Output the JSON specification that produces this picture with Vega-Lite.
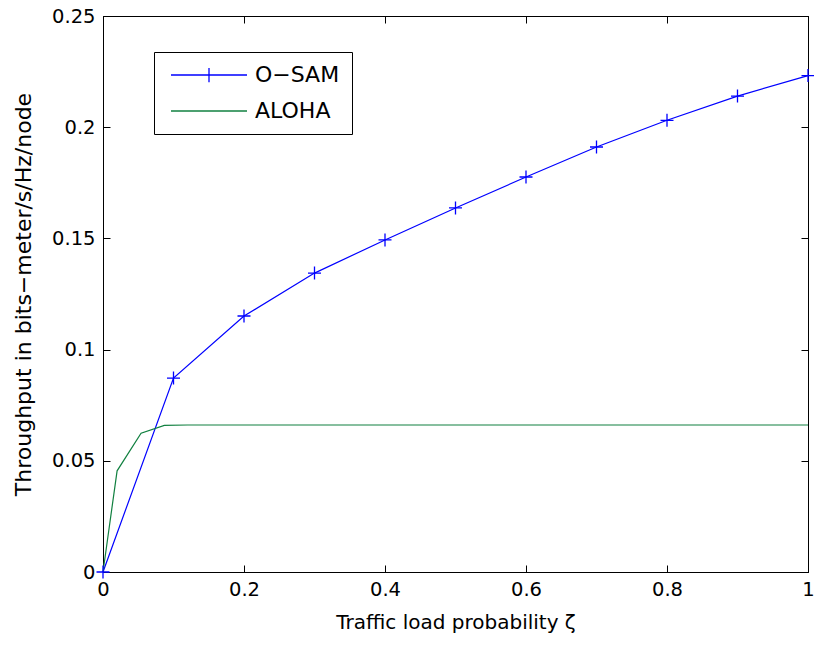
{
  "$schema": "https://vega.github.io/schema/vega-lite/v6.json",
  "width": 705,
  "height": 556,
  "autosize": "none",
  "padding": {"left": 103, "top": 16, "right": 6, "bottom": 73},
  "background": "white",
  "config": {
    "view": {"stroke": "black", "strokeWidth": 1},
    "font": "DejaVu Sans",
    "axis": {"grid": false, "domainColor": "black", "tickColor": "black", "labelColor": "black", "titleColor": "black", "labelFont": "DejaVu Sans", "titleFont": "DejaVu Sans", "labelFontSize": 19.5, "titleFontSize": 20, "titleFontWeight": "normal", "tickSize": -7, "domainWidth": 1, "tickWidth": 1, "labelFlush": false}
  },
  "datasets": {
    "lines": [
      {"series": "O−SAM", "x": 0, "y": 0},
      {"series": "O−SAM", "x": 0.1, "y": 0.0872},
      {"series": "O−SAM", "x": 0.2, "y": 0.1151},
      {"series": "O−SAM", "x": 0.3, "y": 0.1344},
      {"series": "O−SAM", "x": 0.4, "y": 0.1493},
      {"series": "O−SAM", "x": 0.5, "y": 0.1637},
      {"series": "O−SAM", "x": 0.6, "y": 0.1776},
      {"series": "O−SAM", "x": 0.7, "y": 0.1911},
      {"series": "O−SAM", "x": 0.8, "y": 0.2031},
      {"series": "O−SAM", "x": 0.9, "y": 0.2140},
      {"series": "O−SAM", "x": 1.0, "y": 0.2232},
      {"series": "ALOHA", "x": 0, "y": 0},
      {"series": "ALOHA", "x": 0.02, "y": 0.0455},
      {"series": "ALOHA", "x": 0.054, "y": 0.0624},
      {"series": "ALOHA", "x": 0.087, "y": 0.0659},
      {"series": "ALOHA", "x": 0.12, "y": 0.0661},
      {"series": "ALOHA", "x": 1.0, "y": 0.0661}
    ]
  },
  "data": {"name": "lines"},
  "resolve": {"axis": {"x": "independent", "y": "independent"}},
  "layer": [
    {
      "mark": {"type": "line", "strokeWidth": 1.2},
      "encoding": {
        "x": {"field": "x", "type": "quantitative", "scale": {"domain": [0, 1], "nice": false},
              "axis": {"orient": "bottom", "values": [0, 0.2, 0.4, 0.6, 0.8, 1], "format": "~g", "labelPadding": 15, "title": "Traffic load probability ζ", "titlePadding": 14}},
        "y": {"field": "y", "type": "quantitative", "scale": {"domain": [0, 0.25], "nice": false},
              "axis": {"orient": "left", "values": [0, 0.05, 0.1, 0.15, 0.2, 0.25], "format": "~g", "labelPadding": 15, "title": "Throughput in bits−meter/s/Hz/node", "titleFontSize": 22, "titlePadding": 16}},
        "color": {"field": "series", "type": "nominal",
                  "scale": {"domain": ["O−SAM", "ALOHA"], "range": ["#0000ff", "#118040"]},
                  "legend": {"title": null, "orient": "none", "legendX": 51, "legendY": 36,
                             "strokeColor": "black", "fillColor": "white", "padding": 12, "cornerRadius": 0,
                             "labelFont": "DejaVu Sans", "labelFontSize": 22, "labelColor": "black",
                             "symbolSize": 361, "symbolStrokeWidth": 1.3, "symbolOffset": 32, "labelOffset": 35, "rowPadding": 14,
                             "encode": {"symbols": {"update": {"shape": {"signal": "datum.index === 0 ? 'M-4,0H4M0,-0.75V0.75' : 'M-4,0H4'"}}}}}}
      }
    },
    {
      "transform": [{"filter": "datum.series === 'O−SAM'"}],
      "mark": {"type": "point", "shape": "M-1,0H1M0,-1V1", "filled": false, "size": 169, "strokeWidth": 1.3, "color": "#0000ff", "opacity": 1},
      "encoding": {
        "x": {"field": "x", "type": "quantitative", "axis": {"orient": "top", "values": [0, 0.2, 0.4, 0.6, 0.8, 1], "labels": false, "title": null}},
        "y": {"field": "y", "type": "quantitative", "axis": {"orient": "right", "values": [0, 0.05, 0.1, 0.15, 0.2, 0.25], "labels": false, "title": null}}
      }
    }
  ]
}
